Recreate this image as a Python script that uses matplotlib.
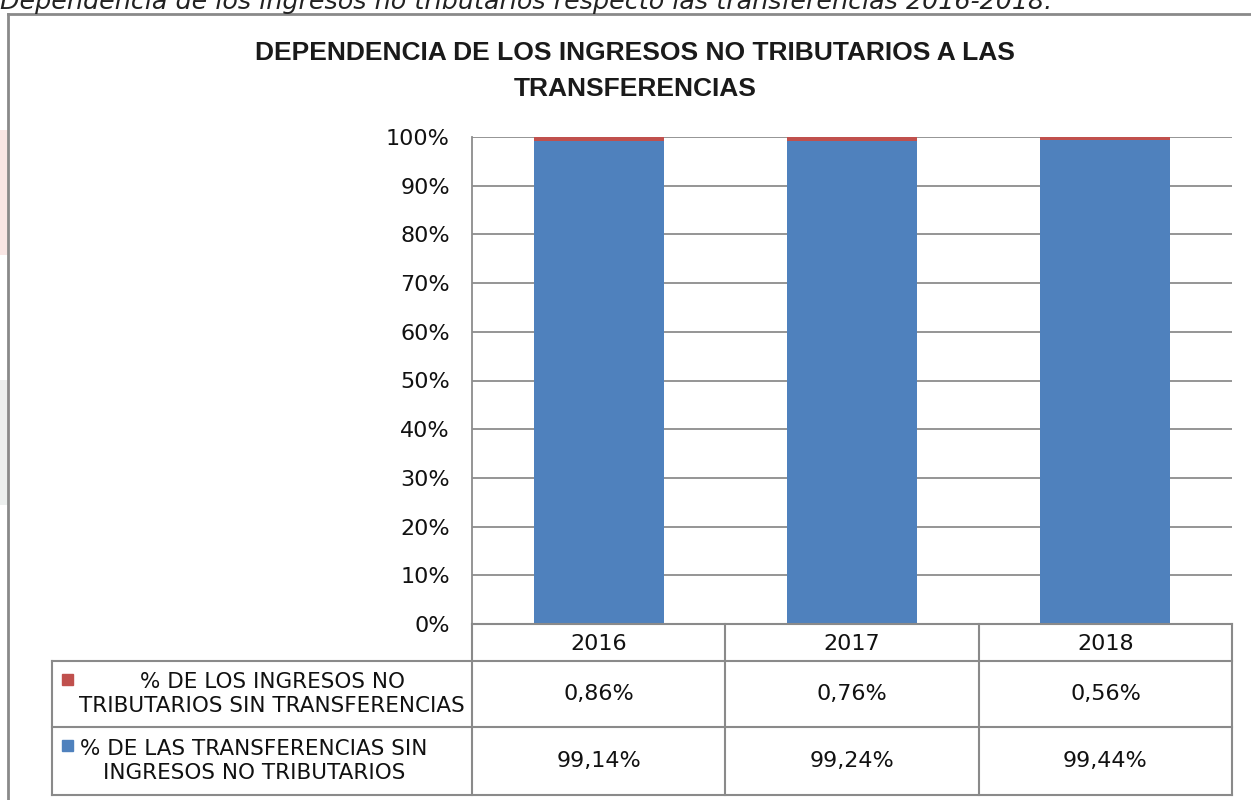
import matplotlib
matplotlib.use("Agg")
import matplotlib.pyplot as plt
from matplotlib.lines import Line2D
from matplotlib.patches import Rectangle
from matplotlib.ticker import MultipleLocator, FuncFormatter

# Data
years = ["2016", "2017", "2018"]
ingresos_no_trib = [0.86, 0.76, 0.56]        # % de los ingresos no tributarios sin transferencias
transferencias = [99.14, 99.24, 99.44]       # % de las transferencias sin ingresos no tributarios
series_labels = ["% DE LOS INGRESOS NO\nTRIBUTARIOS SIN TRANSFERENCIAS",
                 "% DE LAS TRANSFERENCIAS SIN\nINGRESOS NO TRIBUTARIOS"]
title = "DEPENDENCIA DE LOS INGRESOS NO TRIBUTARIOS A LAS\nTRANSFERENCIAS"
caption = "Dependencia de los ingresos no tributarios respecto las transferencias 2016-2018."

BLUE = "#4F81BD"
RED = "#C0504D"
GRID = "#8C8C8C"
BORDER = "#8A8A8A"

W, H = 1251, 800
fig = plt.figure(figsize=(W / 100, H / 100), dpi=100)
fig.patch.set_facecolor("white")
plt.rcParams["font.family"] = ["DejaVu Sans"]


def fx(x):
    return x / W


def fy(y):
    return 1 - y / H


def hline(x0, x1, y, color=BORDER, lw=1.5):
    fig.add_artist(Line2D([fx(x0), fx(x1)], [fy(y), fy(y)], transform=fig.transFigure,
                          color=color, lw=lw))


def vline(x, y0, y1, color=BORDER, lw=1.5):
    fig.add_artist(Line2D([fx(x), fx(x)], [fy(y0), fy(y1)], transform=fig.transFigure,
                          color=color, lw=lw))


# Faint page tints to the left of the chart frame
fig.add_artist(Rectangle((0, fy(255)), fx(8), 125 / H, transform=fig.transFigure,
                         color="#F9E6E4", lw=0))
fig.add_artist(Rectangle((0, fy(505)), fx(8), 125 / H, transform=fig.transFigure,
                         color="#ECEFEE", lw=0))

# Caption running along the top edge of the page
fig.text(fx(0), fy(2), caption, ha="left", va="center", fontsize=18.3,
         style="italic", color="#222222")

# Chart frame
hline(8, W + 5, 14, lw=2)
vline(8, 14, H + 5, lw=2)

# Title
fig.text(fx(635), fy(71), title, ha="center", va="center", fontsize=19,
         fontweight="bold", family="Liberation Sans", linespacing=1.65, color="#1a1a1a")

# Plot area
left, right, top, bottom = 472, 1232, 137, 624
ax = fig.add_axes([fx(left), fy(bottom), fx(right - left), (bottom - top) / H])
x = list(range(len(years)))
ax.bar(x, transferencias, width=0.513, color=BLUE, zorder=3)
ax.bar(x, ingresos_no_trib, bottom=transferencias, width=0.513, color=RED, zorder=3)
ax.set_xlim(-0.5, len(years) - 0.5)
ax.set_ylim(0, 100)
ax.yaxis.set_major_locator(MultipleLocator(10))
ax.yaxis.set_major_formatter(FuncFormatter(lambda v, p: f"{v:.0f}%"))
ax.grid(axis="y", color=GRID, lw=1.3, zorder=0)
ax.set_xticks([])
for s in ["top", "right", "bottom"]:
    ax.spines[s].set_visible(False)
ax.spines["left"].set_color(GRID)
ax.spines["left"].set_linewidth(1.3)
ax.tick_params(axis="y", length=0, pad=16, labelsize=16, labelcolor="#111111")

# Data table below the plot
col_x = [left, 725, 979, right]
row_y = [bottom, 661, 727, 795]
label_left = 52

hline(left, right, row_y[0])
hline(label_left, right, row_y[1])
hline(label_left, right, row_y[2])
hline(label_left, right, row_y[3])
for cx in col_x:
    vline(cx, row_y[0], row_y[3])
vline(label_left, row_y[1], row_y[3])

# Header (years)
for i, yr in enumerate(years):
    cx = (col_x[i] + col_x[i + 1]) / 2
    fig.text(fx(cx), fy((row_y[0] + row_y[1]) / 2 + 1), yr, ha="center", va="center",
             fontsize=16, color="#111111")


def fmt(v):
    return f"{v:.2f}".replace(".", ",") + "%"


rows = [(ingresos_no_trib, RED, series_labels[0], 272),
        (transferencias, BLUE, series_labels[1], 254)]
for r, (vals, color, lab, lab_cx) in enumerate(rows):
    y0, y1 = row_y[r + 1], row_y[r + 2]
    ymid = (y0 + y1) / 2
    for i, v in enumerate(vals):
        cx = (col_x[i] + col_x[i + 1]) / 2
        fig.text(fx(cx), fy(ymid), fmt(v), ha="center", va="center",
                 fontsize=16, color="#111111")
    # legend key
    fig.add_artist(Rectangle((fx(62), fy(y0 + 24)), fx(11), 11 / H,
                             transform=fig.transFigure, color=color))
    fig.text(fx(lab_cx), fy(ymid), lab, ha="center", va="center", fontsize=15.5,
             linespacing=1.2, color="#111111")

fig.savefig("out.png", dpi=100, facecolor="white")
